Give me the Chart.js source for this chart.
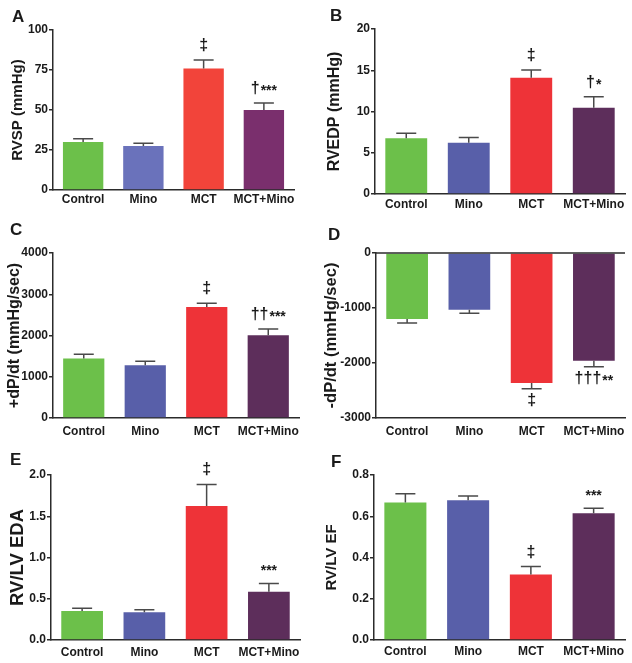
<!DOCTYPE html>
<html>
<head>
<meta charset="utf-8">
<script src="https://cdn.jsdelivr.net/npm/chart.js@4.4.1/dist/chart.umd.min.js"></script>
<style>
  body { margin: 0; background: #fff; }
  #wrap { position: relative; width: 632px; height: 663px; overflow: hidden; }
  canvas { position: absolute; }
  .letter { position: absolute; font: bold 17px "Liberation Sans", Arial, sans-serif; line-height: 17px; color: #1a1a1a; }
</style>
</head>
<body>
<div id="wrap"></div>
<script>
// groupes
const categories = ['Control', 'Mino', 'MCT', 'MCT+Mino'];

// A - RVSP
const rvspMean = [30, 27.5, 76, 50];
const rvspSem = [2, 1.7, 5.2, 4.3];
const rvspNotes = ['', '', '‡', '†***'];
const rvspTicks = [0, 25, 50, 75, 100];

// B - RVEDP
const rvedpMean = [6.75, 6.2, 14.1, 10.45];
const rvedpSem = [0.6, 0.65, 0.93, 1.33];
const rvedpNotes = ['', '', '‡', '†*'];
const rvedpTicks = [0, 5, 10, 15, 20];

// C - +dP/dt
const dpPlusMean = [1440, 1280, 2690, 2005];
const dpPlusSem = [105, 95, 90, 150];
const dpPlusNotes = ['', '', '‡', '††***'];
const dpPlusTicks = [0, 1000, 2000, 3000, 4000];

// D - -dP/dt
const dpMinusMean = [-1200, -1030, -2365, -1960];
const dpMinusSem = [73, 67, 103, 109];
const dpMinusNotes = ['', '', '‡', '†††**'];
const dpMinusTicks = [-3000, -2000, -1000, 0];

// E - RV/LV EDA
const edaMean = [0.352, 0.335, 1.625, 0.585];
const edaSem = [0.032, 0.033, 0.26, 0.1];
const edaNotes = ['', '', '‡', '***'];
const edaTicks = [0, 0.5, 1.0, 1.5, 2.0];

// F - RV/LV EF
const efMean = [0.667, 0.677, 0.317, 0.615];
const efSem = [0.042, 0.021, 0.039, 0.024];
const efNotes = ['', '', '‡', '***'];
const efTicks = [0, 0.2, 0.4, 0.6, 0.8];

const paletteA = ['#6cc04a', '#6a72bb', '#f2443a', '#7a2f6d'];
const palette = ['#6cc04a', '#585fa9', '#ee3338', '#5d2e5b'];
const axisColor = '#2b2b2b';
const fontFamily = '"Liberation Sans", Arial, sans-serif';

const panels = [
  { letter: 'A', lx: 12, ly: 8, title: 'RVSP (mmHg)', mean: rvspMean, sem: rvspSem, notes: rvspNotes, ticks: rvspTicks, dec: 0,
    colors: paletteA, x: 0, y: 0, w: 316, h: 220, area: { l: 53, t: 30, r: 294, b: 190 }, tSize: 15, tX: 18, xPad: 2 },
  { letter: 'B', lx: 330, ly: 7, title: 'RVEDP (mmHg)', mean: rvedpMean, sem: rvedpSem, notes: rvedpNotes, ticks: rvedpTicks, dec: 0,
    colors: palette, x: 316, y: 0, w: 316, h: 220, area: { l: 59, t: 29, r: 309, b: 194 }, tSize: 16, tX: 18.5, xPad: 3 },
  { letter: 'C', lx: 10, ly: 221, title: '+dP/dt (mmHg/sec)', mean: dpPlusMean, sem: dpPlusSem, notes: dpPlusNotes, ticks: dpPlusTicks, dec: 0,
    colors: palette, x: 0, y: 220, w: 316, h: 220, area: { l: 53, t: 33, r: 299, b: 198 }, tSize: 16, tX: 15, xPad: 6 },
  { letter: 'D', lx: 328, ly: 226, title: '-dP/dt (mmHg/sec)', mean: dpMinusMean, sem: dpMinusSem, notes: dpMinusNotes, ticks: dpMinusTicks, dec: 0,
    colors: palette, x: 316, y: 220, w: 316, h: 220, area: { l: 60, t: 33, r: 309, b: 198 }, tSize: 16.5, tX: 15, xPad: 6 },
  { letter: 'E', lx: 10, ly: 451, title: 'RV/LV EDA', mean: edaMean, sem: edaSem, notes: edaNotes, ticks: edaTicks, dec: 1,
    colors: palette, x: 0, y: 440, w: 316, h: 223, area: { l: 51, t: 35, r: 300, b: 200 }, tSize: 18.5, tX: 17.5, xPad: 5 },
  { letter: 'F', lx: 331, ly: 453, title: 'RV/LV EF', mean: efMean, sem: efSem, notes: efNotes, ticks: efTicks, dec: 1,
    colors: palette, x: 316, y: 440, w: 316, h: 223, area: { l: 58, t: 35, r: 309, b: 200 }, tSize: 15, tX: 15.5, xPad: 4 }
];

// barres d'erreur (SEM, un seul côté) + annotations de significativité
const errorBars = {
  id: 'errorBars',
  afterDatasetsDraw(chart) {
    const { ctx, scales: { y }, chartArea } = chart;
    const ds = chart.data.datasets[0];
    const meta = chart.getDatasetMeta(0);
    ctx.save();

    // ligne du zéro quand l'axe est négatif
    if (y.min < 0) {
      const y0 = y.getPixelForValue(0);
      ctx.strokeStyle = axisColor;
      ctx.lineWidth = 1.5;
      ctx.beginPath();
      ctx.moveTo(chartArea.left, y0);
      ctx.lineTo(chartArea.right, y0);
      ctx.stroke();
    }

    meta.data.forEach((bar, i) => {
      const v = ds.data[i];
      const dir = v < 0 ? -1 : 1;
      const yEnd = y.getPixelForValue(v + dir * ds.sem[i]);
      const yBar = y.getPixelForValue(v);
      ctx.strokeStyle = '#4a4a4a';
      ctx.lineWidth = 1.5;
      ctx.beginPath();
      ctx.moveTo(bar.x, yBar);
      ctx.lineTo(bar.x, yEnd);
      ctx.moveTo(bar.x - 10, yEnd);
      ctx.lineTo(bar.x + 10, yEnd);
      ctx.stroke();

      const note = ds.notes[i];
      if (!note) return;
      const m = note.match(/^([†‡]*)(\**)$/);
      const daggers = m[1], stars = m[2];
      const fD = 'bold 16px ' + fontFamily;
      const fS = 'bold 14px ' + fontFamily;
      ctx.font = fD;
      const wD = ctx.measureText(daggers).width;
      ctx.font = fS;
      const wS = ctx.measureText(stars).width;
      const total = wD + wS + (daggers && stars ? 1 : 0);
      let x0 = bar.x - total / 2;
      const base = dir > 0 ? yEnd - 10 : yEnd + 16;
      ctx.fillStyle = '#1a1a1a';
      ctx.textAlign = 'left';
      ctx.textBaseline = 'alphabetic';
      if (daggers) {
        ctx.font = fD;
        ctx.fillText(daggers, x0, base);
        x0 += wD + 1;
      }
      if (stars) {
        ctx.font = fS;
        ctx.fillText(stars, x0, base + 2);
      }
    });
    ctx.restore();
  }
};

const wrap = document.getElementById('wrap');

panels.forEach(p => {
  const cv = document.createElement('canvas');
  cv.width = p.w;
  cv.height = p.h;
  cv.style.left = p.x + 'px';
  cv.style.top = p.y + 'px';
  cv.style.width = p.w + 'px';
  cv.style.height = p.h + 'px';
  wrap.appendChild(cv);

  const lab = document.createElement('div');
  lab.className = 'letter';
  lab.textContent = p.letter;
  lab.style.left = p.lx + 'px';
  lab.style.top = p.ly + 'px';
  wrap.appendChild(lab);

  new Chart(cv.getContext('2d'), {
    type: 'bar',
    data: {
      labels: categories,
      datasets: [{
        data: p.mean,
        sem: p.sem,
        notes: p.notes,
        backgroundColor: p.colors,
        borderWidth: 0,
        barPercentage: 0.67,
        categoryPercentage: 1
      }]
    },
    options: {
      responsive: false,
      animation: false,
      layout: { padding: { left: 0, top: p.area.t, right: p.w - p.area.r, bottom: 0 } },
      plugins: { legend: { display: false }, tooltip: { enabled: false } },
      scales: {
        x: {
          afterFit: s => { s.height = p.h - p.area.b; },
          grid: { display: false, drawTicks: false },
          border: { display: true, color: axisColor, width: 1.5 },
          ticks: {
            color: '#1a1a1a', padding: p.xPad, maxRotation: 0, minRotation: 0, autoSkip: false,
            font: { family: fontFamily, size: 12, weight: 'bold' }
          }
        },
        y: {
          min: p.ticks[0],
          max: p.ticks[p.ticks.length - 1],
          afterFit: s => { s.width = p.area.l; },
          grid: { drawOnChartArea: false, drawTicks: true, tickLength: 4, color: axisColor, lineWidth: 1.5 },
          border: { display: true, color: axisColor, width: 1.5 },
          ticks: {
            stepSize: p.ticks[1] - p.ticks[0],
            padding: 1,
            color: '#1a1a1a',
            font: { family: fontFamily, size: 12, weight: 'bold' },
            callback: v => Number(v).toFixed(p.dec)
          },
          title: {
            display: true,
            text: p.title,
            color: '#1a1a1a',
            font: { family: fontFamily, size: p.tSize, weight: 'bold' },
            padding: { top: p.tX - p.tSize * 0.6, bottom: 0 }
          }
        }
      }
    },
    plugins: [errorBars]
  });
});
</script>
</body>
</html>
